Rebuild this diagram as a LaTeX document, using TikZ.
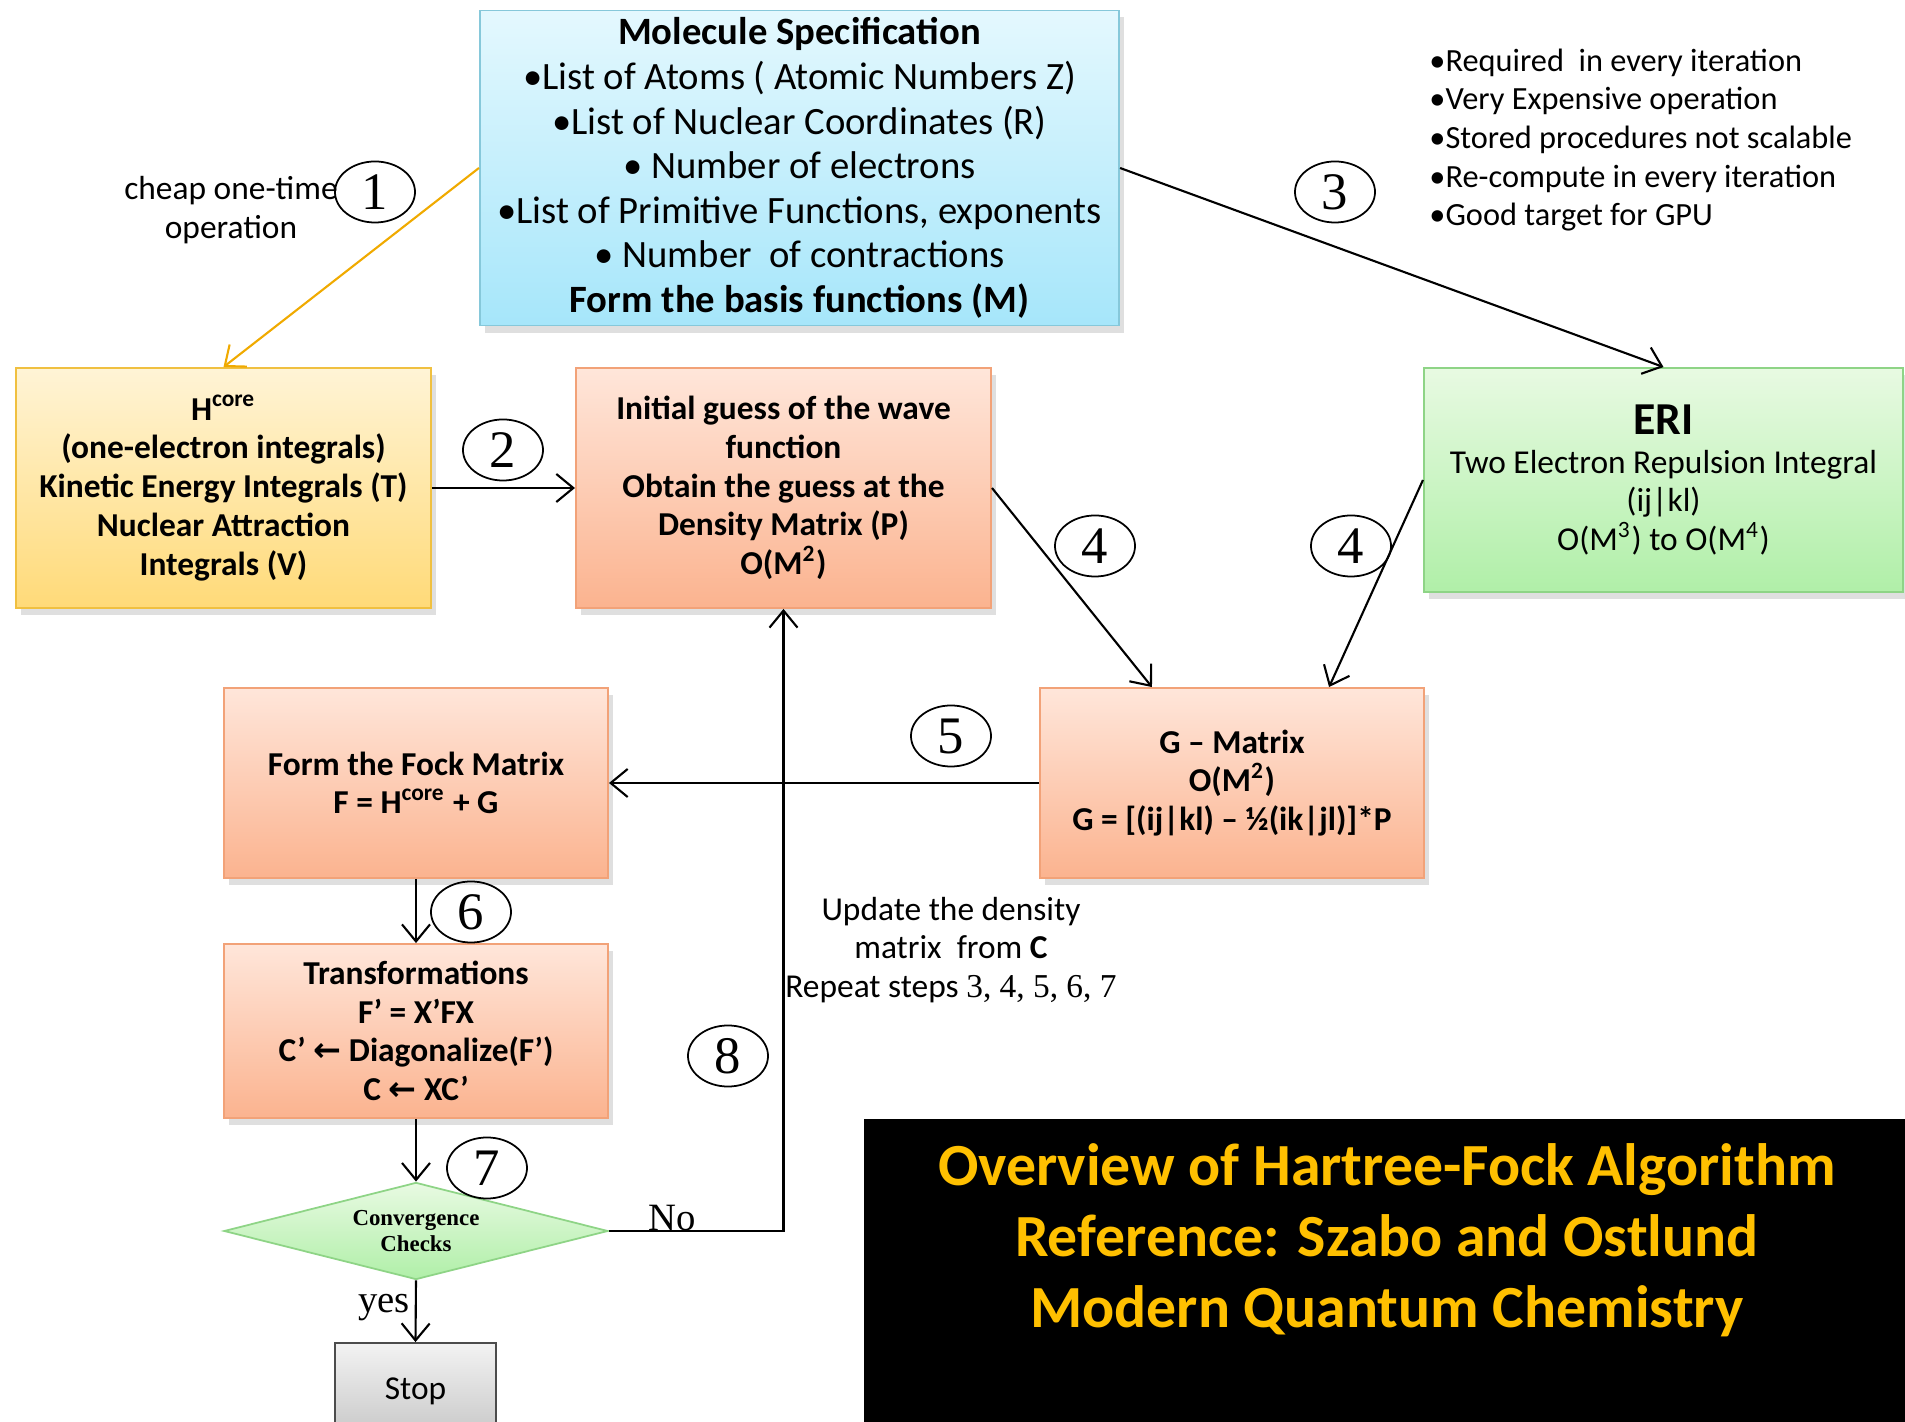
\documentclass[tikz,border=0pt]{standalone}
\usepackage{fontspec}
\setmainfont{Carlito}
\newfontfamily\timesfont{Liberation Serif}
\newfontfamily\symfont{DejaVu Sans}
\usetikzlibrary{arrows.meta,positioning,shapes.geometric,shadows}

\definecolor{molTop}{HTML}{E4F8FE}
\definecolor{molBot}{HTML}{A6E6FA}
\definecolor{molLine}{HTML}{86C8DA}
\definecolor{yelTop}{HTML}{FFF4D6}
\definecolor{yelBot}{HTML}{FFDA78}
\definecolor{yelLine}{HTML}{F0C040}
\definecolor{salTop}{HTML}{FFE6DA}
\definecolor{salBot}{HTML}{FBB38F}
\definecolor{salLine}{HTML}{F2A278}
\definecolor{grnTop}{HTML}{E8FAE2}
\definecolor{grnBot}{HTML}{B0EFA8}
\definecolor{grnLine}{HTML}{8ED486}
\definecolor{oneArrow}{HTML}{F0AA00}
\definecolor{titleGold}{HTML}{FFC000}

\begin{document}
\begin{tikzpicture}[
    x=0.01cm, y=-0.01cm,
    >={Straight Barb[length=1.7mm,width=2.8mm]},
    box/.style={draw, line width=0.5pt, align=center, inner sep=2pt,
        font=\fontsize{9.5}{11}\selectfont\bfseries,
        drop shadow={opacity=0.25, shadow xshift=0.5mm, shadow yshift=-0.7mm}},
    molbox/.style={box, top color=molTop, bottom color=molBot, draw=molLine,
        font=\fontsize{11}{12.7}\selectfont},
    yelbox/.style={box, top color=yelTop, bottom color=yelBot, draw=yelLine},
    salbox/.style={box, top color=salTop, bottom color=salBot, draw=salLine},
    grnbox/.style={box, top color=grnTop, bottom color=grnBot, draw=grnLine,
        font=\fontsize{9.5}{11}\selectfont},
    decide/.style={diamond, aspect=4, draw=grnLine, line width=0.5pt, top color=grnTop, bottom color=grnBot,
        inner sep=0pt, align=center, font=\timesfont\fontsize{6.5}{7.3}\selectfont\bfseries},
    stopbox/.style={draw=black!70, line width=0.5pt, top color=black!5, bottom color=black!22,
        font=\fontsize{9.5}{11}\selectfont},
    num/.style={draw, ellipse, line width=0.5pt, minimum width=0.8cm, minimum height=0.61cm,
        inner sep=0pt, font=\timesfont\fontsize{15}{15}\selectfont},
    note/.style={align=center, font=\fontsize{9.5}{11}\selectfont},
    arr/.style={->, line width=0.6pt},
    oarr/.style={->, line width=0.6pt, oneArrow}
]
    \useasboundingbox (0,0) rectangle (1905,1422);
    \clip (0,0) rectangle (1905,1422);

    % boxes
    \node[molbox, minimum width=6.39cm, minimum height=3.04cm] (mol) at (799.5,168)
        {{\bfseries Molecule Specification}\\
         •List of Atoms ( Atomic Numbers Z)\\
         •List of Nuclear Coordinates (R)\\
         • Number of electrons\\
         •List of Primitive Functions, exponents\\
         • Number\ \ of contractions\\
         {\bfseries Form the basis functions (M)}};
    \node[yelbox, minimum width=4.15cm, minimum height=2.40cm] (hcore) at (223.5,488)
        {H\textsuperscript{core}\\(one-electron integrals)\\Kinetic Energy Integrals (T)\\Nuclear Attraction\\Integrals (V)};
    \node[salbox, minimum width=4.15cm, minimum height=2.40cm] (init) at (783.5,488)
        {Initial guess of the wave\\function\\Obtain the guess at the\\Density Matrix (P)\\O(M\textsuperscript{2})};
    \node[grnbox, minimum width=4.79cm, minimum height=2.24cm] (eri) at (1663.5,480)
        {{\fontsize{13}{15}\selectfont\bfseries ERI}\\Two Electron Repulsion Integral\\(ij|kl)\\O(M\textsuperscript{3}) to O(M\textsuperscript{4})};
    \node[salbox, minimum width=3.84cm, minimum height=1.90cm] (gmat) at (1232,783)
        {G -- Matrix\\O(M\textsuperscript{2})\\G = [(ij|kl) -- ½(ik|jl)]*P};
    \node[salbox, minimum width=3.84cm, minimum height=1.90cm] (fock) at (416,783)
        {Form the Fock Matrix\\F = H\textsuperscript{core} + G};
    \node[salbox, minimum width=3.84cm, minimum height=1.74cm] (trans) at (416,1031)
        {Transformations\\F’ = X’FX\\C’ {\symfont\bfseries ←} Diagonalize(F’)\\C {\symfont\bfseries ←} XC’};
    \node[decide, minimum width=3.84cm, minimum height=0.97cm] (conv) at (416,1231)
        {Convergence\\Checks};
    \node[stopbox, minimum width=1.61cm, minimum height=0.96cm] (stop) at (415.5,1391) {Stop};

    % title panel
    \fill[black] (864,1119) rectangle (1910,1430);
    \node[align=center, text=titleGold, font=\fontsize{17}{20.2}\selectfont\bfseries] (title) at (1387,1240)
        {Overview of Hartree-Fock Algorithm\\Reference: Szabo and Ostlund\\Modern Quantum Chemistry};

    % notes
    \node[note] (cheap) at (231,210) {cheap one-time\\operation};
    \node[note, align=left, anchor=west, font=\fontsize{9.2}{11}\selectfont] (eriNote) at (1417,140)
        {•Required\ \ in every iteration\\•Very Expensive operation\\•Stored procedures not scalable\\•Re-compute in every iteration\\•Good target for GPU};
    \node[note] (update) at (951,950)
        {Update the density\\matrix\ \ from {\bfseries C}\\Repeat steps {\timesfont 3, 4, 5, 6, 7}};
    \node[font=\timesfont\fontsize{11}{12}\selectfont] (no) at (672,1218) {No};
    \node[font=\timesfont\fontsize{11}{12}\selectfont] (yes) at (384,1308) {yes};

    % step numbers
    \node[num] (s1) at (375,192) {1};
    \node[num] (s2) at (503,450) {2};
    \node[num] (s3) at (1335,192) {3};
    \node[num] (s4a) at (1095,546) {4};
    \node[num] (s4b) at (1351,546) {4};
    \node[num] (s5) at (951,736) {5};
    \node[num] (s6) at (471,912) {6};
    \node[num] (s7) at (487,1168) {7};
    \node[num] (s8) at (728,1056) {8};

    % connectors
    \draw[oarr] (mol.west) -- (hcore.north);
    \draw[arr] (mol.east) -- (eri.north);
    \draw[arr] (hcore.east) -- (init.west);
    \draw[arr] (init.east) -- ([xshift=-0.8cm]gmat.north);
    \draw[arr] (eri.west) -- ([xshift=0.97cm]gmat.north);
    \draw[arr] (gmat.west) -- (fock.east);
    \draw[arr] (fock.south) -- (trans.north);
    \draw[arr] (trans.south) -- (conv.north);
    \draw[arr] (conv.south) -- (stop.north);
    \draw[arr] (conv.east) -| (init.south);
\end{tikzpicture}
\end{document}
